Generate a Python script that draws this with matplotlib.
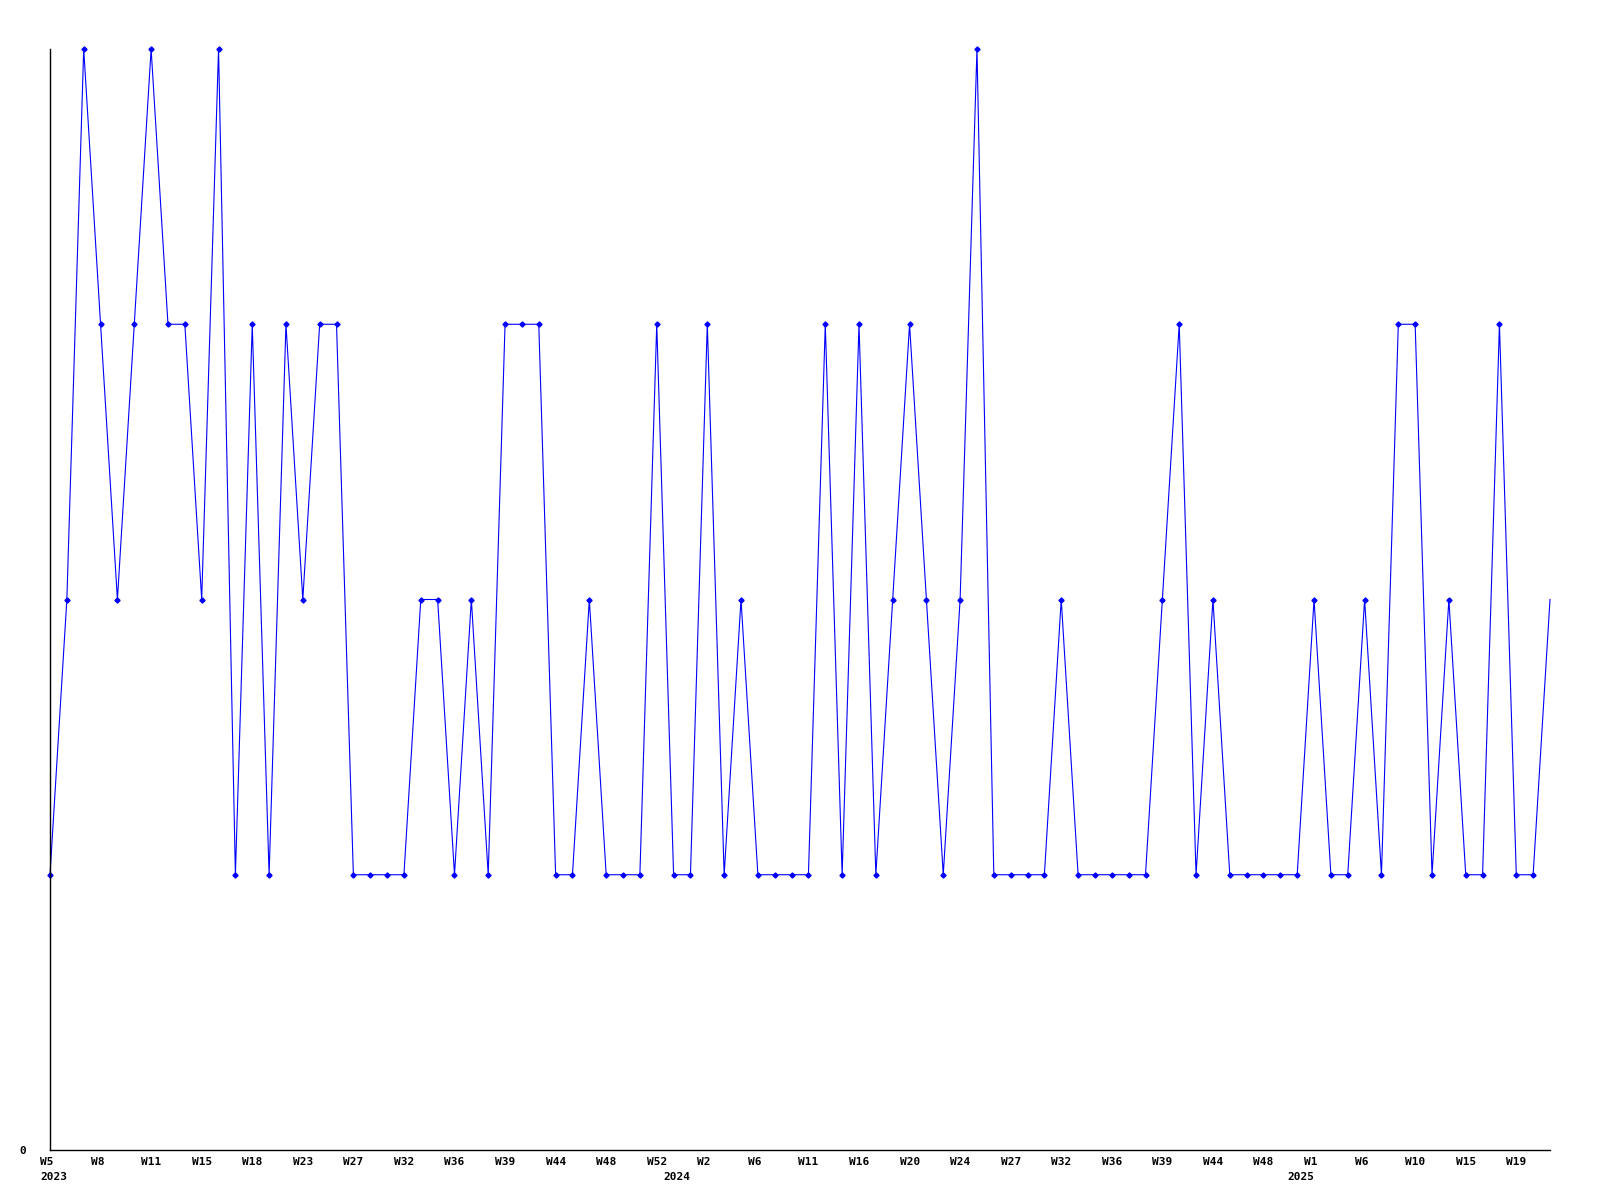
import matplotlib
matplotlib.use("Agg")
import matplotlib.pyplot as plt
import matplotlib.transforms as mtransforms
import numpy as np

# counts per sample (levels 1..4)
counts = [1, 2, 4, 3, 2, 3, 4, 3, 3, 2,
          4, 1, 3, 1, 3, 2, 3, 3, 1, 1,
          1, 1, 2, 2, 1, 2, 1, 3, 3, 3,
          1, 1, 2, 1, 1, 1, 3, 1, 1, 3,
          1, 2, 1, 1, 1, 1, 3, 1, 3, 1,
          2, 3, 2, 1, 2, 4, 1, 1, 1, 1,
          2, 1, 1, 1, 1, 1, 2, 3, 1, 2,
          1, 1, 1, 1, 1, 2, 1, 1, 2, 1,
          3, 3, 1, 2, 1, 1, 3, 1, 1, 2]

week_labels = ["W5", "W8", "W11", "W15", "W18", "W23", "W27", "W32", "W36", "W39",
               "W44", "W48", "W52", "W2", "W6", "W11", "W16", "W20", "W24", "W27",
               "W32", "W36", "W39", "W44", "W48", "W1", "W6", "W10", "W15", "W19"]
week_pos = list(range(0, 90, 3))

years = ["2023", "2024", "2025"]
year_pos = [0, 37, 74]

x = np.arange(len(counts))

fig = plt.figure(figsize=(16, 12), dpi=100)
ax = fig.add_axes([50 / 1600, 50 / 1200, 1500 / 1600, 1101 / 1200])

# last sample is drawn without a marker, like the original
ax.plot(x, counts, color="#0000ff", linewidth=0.8, marker="D", markersize=2.6,
        markevery=list(range(len(counts) - 1)), clip_on=False)

ax.set_xlim(0, len(counts) - 1)
ax.set_ylim(0, 4)

for s in ["top", "right"]:
    ax.spines[s].set_visible(False)
for s in ["left", "bottom"]:
    ax.spines[s].set_linewidth(1.0)

font = dict(family="DejaVu Sans Mono", weight="bold", size=8)

ax.set_yticks([0])
ax.set_yticklabels(["0"], **font)
ax.tick_params(axis="y", length=0, pad=17)

# labels start a few pixels left of their sample
ax.set_xticks(week_pos)
ax.set_xticklabels(week_labels, ha="left", **font)
ax.tick_params(axis="x", length=0, pad=5)
shift = mtransforms.ScaledTranslation(-10 / 100, 0, fig.dpi_scale_trans)
for lbl in ax.get_xticklabels():
    lbl.set_transform(lbl.get_transform() + shift)

for lab, p in zip(years, year_pos):
    ax.annotate(lab, xy=(p, 0), xycoords=("data", "axes fraction"),
                xytext=(-7.2, -19.5), textcoords="offset points",
                ha="left", va="center", **font)

fig.savefig("out.png", dpi=100)
